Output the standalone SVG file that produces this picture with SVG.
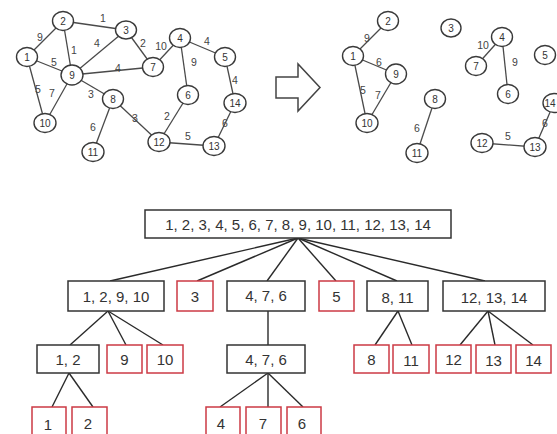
<svg xmlns="http://www.w3.org/2000/svg" width="557" height="434" viewBox="0 0 557 434">
  <style>
    .bg { fill: #ffffff; }
    .edge { stroke: #4a4a4a; stroke-width: 1.3; fill: none; }
    .node ellipse { fill: #ffffff; stroke: #3a3a3a; stroke-width: 1.4; }
    .nlbl { font-family: "Liberation Sans", Arial, sans-serif; font-size: 10px; fill: #333; text-anchor: middle; dominant-baseline: central; }
    .elbl { font-family: "Liberation Sans", Arial, sans-serif; font-size: 10.5px; fill: #444; text-anchor: middle; dominant-baseline: central; }
    .tlink { stroke: #2a2a2a; stroke-width: 1.4; fill: none; }
    .box { fill: #ffffff; stroke: #333; stroke-width: 1.5; }
    .leaf { fill: #ffffff; stroke: #cc3a44; stroke-width: 1.5; }
    .tlbl { font-family: "Liberation Sans", Arial, sans-serif; font-size: 15px; fill: #333; text-anchor: middle; dominant-baseline: central; }
    .arrow { fill: #ffffff; stroke: #444; stroke-width: 1.5; stroke-linejoin: miter; }
  </style>
  <rect class="bg" x="0" y="0" width="557" height="434"/>

  <!-- Original weighted graph: edges -->
  <g id="graph-a-edges">
    <line class="edge" x1="27" y1="57" x2="63" y2="21"/>
    <line class="edge" x1="63" y1="21" x2="126" y2="30"/>
    <line class="edge" x1="63" y1="21" x2="72" y2="75"/>
    <line class="edge" x1="126" y1="30" x2="72" y2="75"/>
    <line class="edge" x1="126" y1="30" x2="153" y2="67"/>
    <line class="edge" x1="27" y1="57" x2="72" y2="75"/>
    <line class="edge" x1="72" y1="75" x2="153" y2="67"/>
    <line class="edge" x1="180" y1="38" x2="153" y2="67"/>
    <line class="edge" x1="180" y1="38" x2="225" y2="57"/>
    <line class="edge" x1="180" y1="38" x2="188" y2="95"/>
    <line class="edge" x1="225" y1="57" x2="235" y2="103"/>
    <line class="edge" x1="27" y1="57" x2="45" y2="123"/>
    <line class="edge" x1="72" y1="75" x2="45" y2="123"/>
    <line class="edge" x1="72" y1="75" x2="113" y2="99"/>
    <line class="edge" x1="113" y1="99" x2="159" y2="142"/>
    <line class="edge" x1="113" y1="99" x2="93" y2="152"/>
    <line class="edge" x1="188" y1="95" x2="159" y2="142"/>
    <line class="edge" x1="159" y1="142" x2="214" y2="146"/>
    <line class="edge" x1="235" y1="103" x2="214" y2="146"/>
  </g>
  <g id="graph-a-weights">
    <text class="elbl" x="103" y="18">1</text>
    <text class="elbl" x="40" y="37">9</text>
    <text class="elbl" x="74" y="50">1</text>
    <text class="elbl" x="97" y="43">4</text>
    <text class="elbl" x="143" y="43">2</text>
    <text class="elbl" x="54" y="62">5</text>
    <text class="elbl" x="118" y="68">4</text>
    <text class="elbl" x="161" y="46">10</text>
    <text class="elbl" x="207" y="41">4</text>
    <text class="elbl" x="194" y="62">9</text>
    <text class="elbl" x="235" y="80">4</text>
    <text class="elbl" x="38" y="89">5</text>
    <text class="elbl" x="52" y="93">7</text>
    <text class="elbl" x="91" y="94">3</text>
    <text class="elbl" x="135" y="118">3</text>
    <text class="elbl" x="93" y="127">6</text>
    <text class="elbl" x="167" y="116">2</text>
    <text class="elbl" x="188" y="136">5</text>
    <text class="elbl" x="225" y="123">6</text>
  </g>
  <g id="graph-a-nodes">
    <g id="a1" class="node"><ellipse cx="27" cy="57" rx="10.5" ry="9.5"/><text class="nlbl" x="27" y="57">1</text></g>
    <g id="a2" class="node"><ellipse cx="63" cy="21" rx="10.5" ry="9.5"/><text class="nlbl" x="63" y="21">2</text></g>
    <g id="a3" class="node"><ellipse cx="126" cy="30" rx="10.5" ry="9"/><text class="nlbl" x="126" y="30">3</text></g>
    <g id="a4" class="node"><ellipse cx="180" cy="38" rx="10.5" ry="9.5"/><text class="nlbl" x="180" y="38">4</text></g>
    <g id="a5" class="node"><ellipse cx="225" cy="57" rx="10.5" ry="9.5"/><text class="nlbl" x="225" y="57">5</text></g>
    <g id="a6" class="node"><ellipse cx="188" cy="95" rx="10.5" ry="9.5"/><text class="nlbl" x="188" y="95">6</text></g>
    <g id="a7" class="node"><ellipse cx="153" cy="67" rx="10.5" ry="9.5"/><text class="nlbl" x="153" y="67">7</text></g>
    <g id="a8" class="node"><ellipse cx="113" cy="99" rx="10.5" ry="9.5"/><text class="nlbl" x="113" y="99">8</text></g>
    <g id="a9" class="node"><ellipse cx="72" cy="75" rx="11" ry="10"/><text class="nlbl" x="72" y="75">9</text></g>
    <g id="a10" class="node"><ellipse cx="45" cy="123" rx="11" ry="9.5"/><text class="nlbl" x="45" y="123">10</text></g>
    <g id="a11" class="node"><ellipse cx="93" cy="152" rx="11" ry="9.5"/><text class="nlbl" x="93" y="152">11</text></g>
    <g id="a12" class="node"><ellipse cx="159" cy="142" rx="11" ry="9.5"/><text class="nlbl" x="159" y="142">12</text></g>
    <g id="a13" class="node"><ellipse cx="214" cy="146" rx="11" ry="9.5"/><text class="nlbl" x="214" y="146">13</text></g>
    <g id="a14" class="node"><ellipse cx="235" cy="103" rx="11" ry="9.5"/><text class="nlbl" x="235" y="103">14</text></g>
  </g>

  <!-- Hollow block arrow -->
  <path id="transform-arrow" class="arrow" d="M276,77 L298,77 L298,64 L320,87.5 L298,111 L298,98 L276,98 Z"/>

  <!-- Resulting forest: edges -->
  <g id="graph-b-edges">
    <line class="edge" x1="353" y1="56" x2="388" y2="21"/>
    <line class="edge" x1="353" y1="56" x2="396" y2="74"/>
    <line class="edge" x1="353" y1="56" x2="367" y2="123"/>
    <line class="edge" x1="396" y1="74" x2="367" y2="123"/>
    <line class="edge" x1="435" y1="99" x2="417" y2="153"/>
    <line class="edge" x1="502" y1="37" x2="476" y2="66"/>
    <line class="edge" x1="502" y1="37" x2="508" y2="94"/>
    <line class="edge" x1="482" y1="143" x2="535" y2="147"/>
    <line class="edge" x1="535" y1="147" x2="554" y2="103"/>
  </g>
  <g id="graph-b-weights">
    <text class="elbl" x="367" y="38">9</text>
    <text class="elbl" x="379" y="62">6</text>
    <text class="elbl" x="363" y="90">5</text>
    <text class="elbl" x="378" y="95">7</text>
    <text class="elbl" x="417" y="128">6</text>
    <text class="elbl" x="483" y="45">10</text>
    <text class="elbl" x="515" y="62">9</text>
    <text class="elbl" x="508" y="136">5</text>
    <text class="elbl" x="545" y="123">6</text>
  </g>
  <g id="graph-b-nodes">
    <g id="b1" class="node"><ellipse cx="353" cy="56" rx="10.5" ry="9.5"/><text class="nlbl" x="353" y="56">1</text></g>
    <g id="b2" class="node"><ellipse cx="388" cy="21" rx="10.5" ry="9.5"/><text class="nlbl" x="388" y="21">2</text></g>
    <g id="b3" class="node"><ellipse cx="451" cy="28" rx="10" ry="9"/><text class="nlbl" x="451" y="28">3</text></g>
    <g id="b4" class="node"><ellipse cx="502" cy="37" rx="10.5" ry="9.5"/><text class="nlbl" x="502" y="37">4</text></g>
    <g id="b5" class="node"><ellipse cx="545" cy="55" rx="10.5" ry="9.5"/><text class="nlbl" x="545" y="55">5</text></g>
    <g id="b6" class="node"><ellipse cx="508" cy="94" rx="10.5" ry="9.5"/><text class="nlbl" x="508" y="94">6</text></g>
    <g id="b7" class="node"><ellipse cx="476" cy="66" rx="10.5" ry="9.5"/><text class="nlbl" x="476" y="66">7</text></g>
    <g id="b8" class="node"><ellipse cx="435" cy="99" rx="10.5" ry="9.5"/><text class="nlbl" x="435" y="99">8</text></g>
    <g id="b9" class="node"><ellipse cx="396" cy="74" rx="10.5" ry="10"/><text class="nlbl" x="396" y="74">9</text></g>
    <g id="b10" class="node"><ellipse cx="367" cy="123" rx="11" ry="9.5"/><text class="nlbl" x="367" y="123">10</text></g>
    <g id="b11" class="node"><ellipse cx="417" cy="153" rx="11" ry="9.5"/><text class="nlbl" x="417" y="153">11</text></g>
    <g id="b12" class="node"><ellipse cx="482" cy="143" rx="11" ry="9.5"/><text class="nlbl" x="482" y="143">12</text></g>
    <g id="b13" class="node"><ellipse cx="535" cy="147" rx="11" ry="9.5"/><text class="nlbl" x="535" y="147">13</text></g>
    <g id="b14" class="node"><ellipse cx="554" cy="103" rx="11" ry="9.5"/><text class="nlbl" x="550" y="103">14</text></g>
  </g>

  <!-- Component tree: links -->
  <g id="tree-links">
    <line class="tlink" x1="298" y1="238" x2="110" y2="281"/>
    <line class="tlink" x1="298" y1="238" x2="197" y2="281"/>
    <line class="tlink" x1="298" y1="238" x2="267" y2="281"/>
    <line class="tlink" x1="298" y1="238" x2="336" y2="281"/>
    <line class="tlink" x1="298" y1="238" x2="397" y2="281"/>
    <line class="tlink" x1="298" y1="238" x2="485" y2="281"/>
    <line class="tlink" x1="108" y1="311" x2="70" y2="345"/>
    <line class="tlink" x1="108" y1="311" x2="126" y2="345"/>
    <line class="tlink" x1="108" y1="311" x2="163" y2="345"/>
    <line class="tlink" x1="268" y1="311" x2="268" y2="345"/>
    <line class="tlink" x1="398" y1="311" x2="375" y2="345"/>
    <line class="tlink" x1="398" y1="311" x2="412" y2="345"/>
    <line class="tlink" x1="488" y1="311" x2="460" y2="345"/>
    <line class="tlink" x1="488" y1="311" x2="495" y2="345"/>
    <line class="tlink" x1="488" y1="311" x2="533" y2="345"/>
    <line class="tlink" x1="69" y1="373" x2="52" y2="407"/>
    <line class="tlink" x1="69" y1="373" x2="93" y2="407"/>
    <line class="tlink" x1="268" y1="373" x2="220" y2="407"/>
    <line class="tlink" x1="268" y1="373" x2="268" y2="407"/>
    <line class="tlink" x1="268" y1="373" x2="303" y2="407"/>
  </g>

  <!-- Component tree: nodes -->
  <g id="t-root"><rect class="box" x="145" y="210" width="306" height="28"/><text class="tlbl" x="298" y="224.5">1, 2, 3, 4, 5, 6, 7, 8, 9, 10, 11, 12, 13, 14</text></g>

  <g id="t-1-2-9-10"><rect class="box" x="68" y="281" width="96" height="30"/><text class="tlbl" x="116" y="296">1, 2, 9, 10</text></g>
  <g id="t-3"><rect class="leaf" x="177" y="281" width="36" height="30"/><text class="tlbl" x="195" y="296">3</text></g>
  <g id="t-4-7-6"><rect class="box" x="227" y="281" width="78" height="30"/><text class="tlbl" x="266" y="295">4, 7, 6</text></g>
  <g id="t-5"><rect class="leaf" x="319" y="281" width="35" height="30"/><text class="tlbl" x="336.5" y="296">5</text></g>
  <g id="t-8-11"><rect class="box" x="367" y="281" width="61" height="30"/><text class="tlbl" x="397.5" y="297">8, 11</text></g>
  <g id="t-12-13-14"><rect class="box" x="443" y="281" width="102" height="30"/><text class="tlbl" x="494" y="297">12, 13, 14</text></g>

  <g id="t-1-2"><rect class="box" x="37" y="345" width="62" height="28"/><text class="tlbl" x="68" y="359">1, 2</text></g>
  <g id="t-9"><rect class="leaf" x="107" y="345" width="35" height="28"/><text class="tlbl" x="124.5" y="359">9</text></g>
  <g id="t-10"><rect class="leaf" x="147" y="345" width="36" height="28"/><text class="tlbl" x="165" y="359">10</text></g>
  <g id="t-4-7-6-b"><rect class="box" x="227" y="345" width="78" height="28"/><text class="tlbl" x="266" y="359">4, 7, 6</text></g>
  <g id="t-8"><rect class="leaf" x="354" y="345" width="35" height="28"/><text class="tlbl" x="371.5" y="359">8</text></g>
  <g id="t-11"><rect class="leaf" x="393" y="345" width="36" height="28"/><text class="tlbl" x="411" y="360">11</text></g>
  <g id="t-12"><rect class="leaf" x="436" y="345" width="35" height="28"/><text class="tlbl" x="453.5" y="359">12</text></g>
  <g id="t-13"><rect class="leaf" x="476" y="345" width="35" height="28"/><text class="tlbl" x="493.5" y="360">13</text></g>
  <g id="t-14"><rect class="leaf" x="516" y="345" width="35" height="28"/><text class="tlbl" x="533.5" y="360">14</text></g>

  <g id="t-1"><rect class="leaf" x="32" y="407" width="34" height="32"/><text class="tlbl" x="48" y="424">1</text></g>
  <g id="t-2"><rect class="leaf" x="72" y="407" width="35" height="32"/><text class="tlbl" x="88" y="423">2</text></g>
  <g id="t-4"><rect class="leaf" x="206" y="407" width="34" height="32"/><text class="tlbl" x="221" y="423">4</text></g>
  <g id="t-7"><rect class="leaf" x="246" y="407" width="35" height="32"/><text class="tlbl" x="263" y="423">7</text></g>
  <g id="t-6"><rect class="leaf" x="287" y="407" width="34" height="32"/><text class="tlbl" x="302" y="423">6</text></g>
</svg>
